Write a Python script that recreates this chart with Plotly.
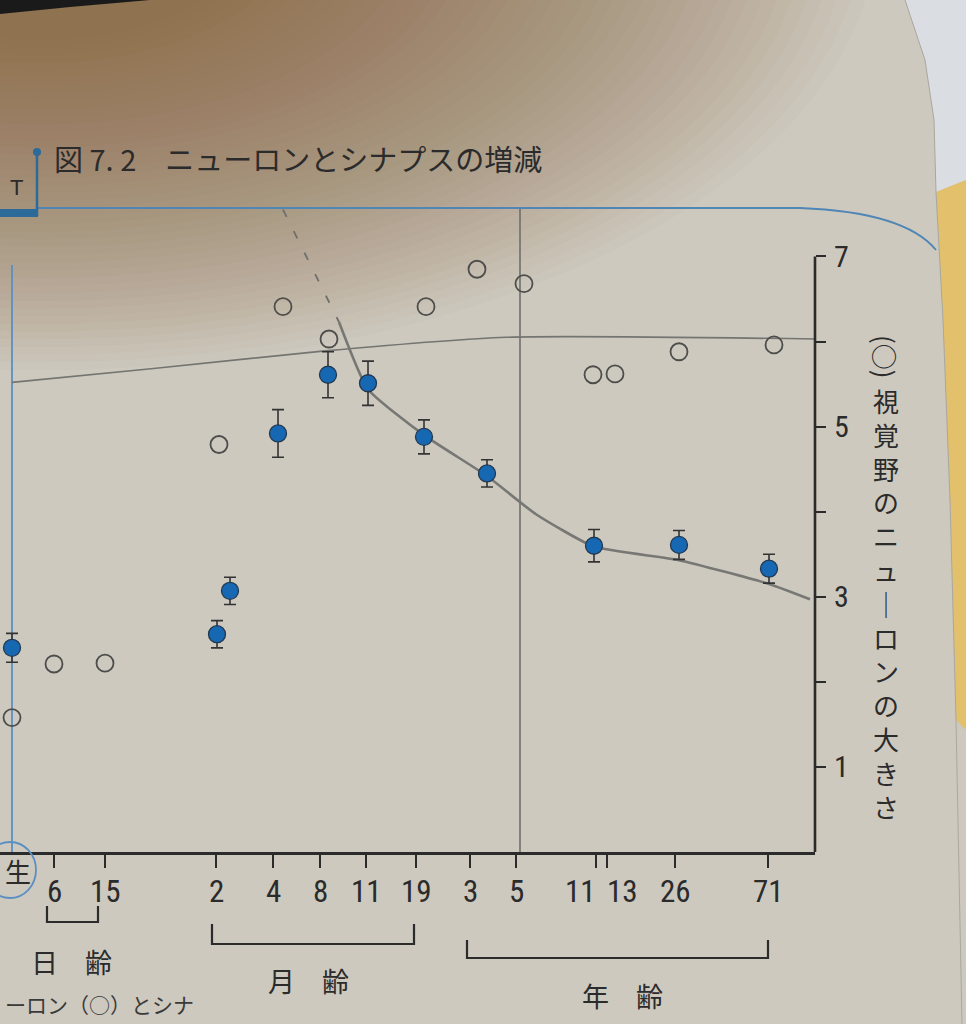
import plotly.graph_objects as go

# ---------------- data ----------------
# positions along the (non-linear) age axis, in axis units
tick_pos = [4.2, 9.3, 20.4, 26.1, 30.8, 35.4, 40.4, 45.8, 50.4, 58.4, 59.5, 66.3, 75.6]
tick_labels = ["6", "15", "2", "4", "8", "11", "19", "3", "5", "11", "13", "26", "71"]
birth_label = "生"
group_labels = ["日\u3000齢", "月\u3000齢", "年\u3000齢"]
right_ticks = [1, 2, 3, 4, 5, 6, 7]
right_tick_text = ["1", "", "3", "", "5", "", "7"]
title_text = "図 7. 2\u3000ニューロンとシナプスの増減"
right_title_mark = "(○)"
right_title_chars = ["視", "覚", "野", "の", "ニ", "ュ", "｜", "ロ", "ン", "の", "大", "き", "さ"]

# (○) size of visual-cortex neurons
open_x = [0, 4.2, 9.3, 20.7, 27.1, 31.7, 41.4, 46.5, 51.2, 58.1, 60.3, 66.7, 76.2]
open_y = [1.58, 2.21, 2.22, 4.79, 6.41, 6.03, 6.41, 6.85, 6.68, 5.61, 5.62, 5.88, 5.96]
# (●) synapse density with error bars
filled_x = [0, 20.5, 21.8, 26.6, 31.6, 35.6, 41.2, 47.5, 58.2, 66.7, 75.7]
filled_y = [2.40, 2.56, 3.07, 4.92, 5.61, 5.51, 4.88, 4.45, 3.60, 3.61, 3.33]
filled_err = [0.17, 0.16, 0.16, 0.28, 0.27, 0.26, 0.20, 0.16, 0.19, 0.17, 0.17]
# decline curve (dashed start, solid after)
trend_dash_x = [27.1, 32.7]
trend_dash_y = [7.55, 6.23]
trend_x = [32.7, 35.6, 41.2, 47.5, 52.4, 58.2, 66.7, 75.7, 79.8]
trend_y = [6.23, 5.44, 4.90, 4.42, 3.97, 3.59, 3.43, 3.15, 2.97]
# near-flat neuron line
flat_x = [0, 13.9, 31.3, 49.4, 80.3]
flat_y = [5.52, 5.68, 5.89, 6.05, 6.03]
age5_x = 50.8
left_axis_top = 6.9

# ---------------- layout helpers ----------------
W, H = 966, 1024
ML, MR, MT, MB = 0, 151, 208, 172
PW = W - ML - MR
PH = H - MT - MB
XR = [-1.2, 80.3]
YR = [0, 7.57]


def fx(px):
    return (px - ML) / PW


def fy(py):
    return (H - MB - py) / PH


def ux(xu):
    return (xu - XR[0]) / (XR[1] - XR[0]) * PW + ML


def pt(a, b):
    return f"{fx(a):.5f},{fy(b):.5f}"


def path(points, close=False):
    s = "M " + " L ".join(pt(a, b) for a, b in points)
    return s + (" Z" if close else "")


NUM_FONT = "Liberation Sans Narrow, Roboto Condensed, DejaVu Sans Condensed, Liberation Sans, sans-serif"
JP_FONT = "Noto Sans CJK JP"
INK = "#2b2b2b"
BG = "#cdc9bf"

fig = go.Figure()

fig.add_trace(go.Scatter(x=flat_x, y=flat_y, mode="lines",
                         line=dict(color="#747471", width=1.6, shape="spline", smoothing=0.6),
                         hoverinfo="skip", showlegend=False))
fig.add_trace(go.Scatter(x=trend_dash_x, y=trend_dash_y, mode="lines",
                         line=dict(color="#6e6e6b", width=1.8, dash="8px,16px"),
                         hoverinfo="skip", showlegend=False))
fig.add_trace(go.Scatter(x=trend_x, y=trend_y, mode="lines",
                         line=dict(color="#777774", width=2.6, shape="spline", smoothing=0.5),
                         hoverinfo="skip", showlegend=False))
fig.add_trace(go.Scatter(x=filled_x, y=filled_y, mode="markers",
                         marker=dict(size=17, color="#1768b3", line=dict(color="#22384f", width=1.3)),
                         error_y=dict(type="data", array=filled_err, color="#333333", thickness=1.6, width=6),
                         cliponaxis=False, showlegend=False))
fig.add_trace(go.Scatter(x=open_x, y=open_y, mode="markers",
                         marker=dict(symbol="circle-open", size=17, color="#4d4d4b", line=dict(width=1.8)),
                         cliponaxis=False, showlegend=False))

shapes = []
# ---- background lighting: soft warm shadow at the top-left ----
n_layers = 44
for k in range(n_layers):
    R = 110 + 330 * k / (n_layers - 1)
    cx, cy = 40, -70
    shapes.append(dict(type="circle", xref="paper", yref="paper", layer="below",
                       x0=fx(cx - 1.9 * R), x1=fx(cx + 1.9 * R), y0=fy(cy + R), y1=fy(cy - R),
                       fillcolor="rgba(122,86,40,0.024)", line=dict(width=0)))
shapes.append(dict(type="path", xref="paper", yref="paper", layer="below",
                   path=path([(0, 0), (150, 0), (70, 7), (0, 14)], True),
                   fillcolor="#1a1a1a", line=dict(width=0)))
# right page edge: white background at the corner, yellow page below
edge = [(905, 0), (925, 60), (934, 120), (936, 192), (943, 320), (950, 500), (956, 720), (962, 1024)]
shapes.append(dict(type="path", xref="paper", yref="paper", layer="below",
                   path=path([(966, 0), (966, 180)] + edge[3::-1], True),
                   fillcolor="#dadde1", line=dict(width=0)))
shapes.append(dict(type="path", xref="paper", yref="paper", layer="below",
                   path=path([(966, 180), (966, 730)] + [(956, 720), (950, 500), (943, 320), (936, 192)], True),
                   fillcolor="#e2c06c", line=dict(width=0)))
shapes.append(dict(type="path", xref="paper", yref="paper", layer="below",
                   path=path(edge), line=dict(color="#a9a7a0", width=1)))

# ---- title rule (curving down at the page corner) and tab ----
shapes.append(dict(type="path", xref="paper", yref="paper",
                   path=f"M {pt(37, MT)} L {pt(800, MT)} Q {pt(905, MT + 4)} {pt(936, 250)}",
                   line=dict(color="#4f86b5", width=1.8)))
shapes.append(dict(type="line", xref="paper", yref="paper", x0=fx(37), x1=fx(37), y0=fy(152), y1=fy(216),
                   line=dict(color="#2c6a9a", width=2.5)))
shapes.append(dict(type="circle", xref="paper", yref="paper", x0=fx(33), x1=fx(41), y0=fy(156), y1=fy(148),
                   fillcolor="#2c6a9a", line=dict(width=0)))
shapes.append(dict(type="rect", xref="paper", yref="paper", x0=fx(-2), x1=fx(38), y0=fy(217), y1=fy(209),
                   fillcolor="#2c6a9a", line=dict(width=0)))

# ---- axes lines ----
shapes.append(dict(type="line", xref="paper", yref="y", x0=1, x1=1, y0=0, y1=7,
                   line=dict(color=INK, width=2.6)))
shapes.append(dict(type="line", xref="x", yref="y", x0=0, x1=0, y0=0, y1=left_axis_top,
                   line=dict(color="#5b8fc2", width=1.8), layer="below"))
shapes.append(dict(type="line", xref="x", yref="y", x0=age5_x, x1=age5_x, y0=0, y1=YR[1],
                   line=dict(color="#6f6f6c", width=1.6), layer="below"))

# ---- age group brackets ----
brackets = [(3.5, 8.6, 906, 922), (20.0, 40.2, 924, 944), (45.5, 75.6, 940, 958)]
for x0u, x1u, yt, yb in brackets:
    a, b = ux(x0u), ux(x1u)
    shapes.append(dict(type="path", xref="paper", yref="paper",
                       path=path([(a, yt), (a, yb), (b, yb), (b, yt)]),
                       line=dict(color=INK, width=2.2)))
# circle around birth label
shapes.append(dict(type="circle", xref="paper", yref="paper", x0=fx(-16), x1=fx(36), y0=fy(898), y1=fy(842),
                   line=dict(color="#5b8fc2", width=1.8)))


def ann(text, x, y, size, family=JP_FONT, xref="paper", **kw):
    d = dict(text=text, xref=xref, yref="paper", x=x, y=y, showarrow=False,
             xanchor=kw.pop("xanchor", "center"), yanchor=kw.pop("yanchor", "middle"),
             font=dict(family=family, size=size, color=kw.pop("color", INK)))
    d.update(kw)
    return d


annotations = []
annotations.append(ann(title_text, fx(52), fy(158), 29, xanchor="left"))
annotations.append(ann("T", fx(16), fy(187), 22, family="Liberation Sans"))
# x tick labels
shifts = {9: -16, 10: 15}
for i, (p, lab) in enumerate(zip(tick_pos, tick_labels)):
    annotations.append(ann(lab, p, fy(891), 31, family=NUM_FONT, xref="x", xshift=shifts.get(i, 0)))
annotations.append(ann(birth_label, fx(3), fy(870), 26, xanchor="left"))
# group labels
for lab, (px, py) in zip(group_labels, [(71, 961), (308, 980), (622, 995)]):
    annotations.append(ann(lab, fx(px), fy(py), 27))
# vertical right-axis title
annotations.append(ann(right_title_mark, fx(886), fy(357), 26, textangle=90))
annotations.append(ann("<br>".join(right_title_chars), fx(886), fy(603), 26))
# body text at the bottom edge
annotations.append(ann("ーロン（○）とシナ", fx(3), fy(1004), 21, xanchor="left", color="#3a3a3a"))

fig.update_layout(
    width=W, height=H,
    margin=dict(l=ML, r=MR, t=MT, b=MB, autoexpand=False),
    paper_bgcolor=BG, plot_bgcolor="rgba(0,0,0,0)",
    shapes=shapes, annotations=annotations, showlegend=False,
    xaxis=dict(range=XR, showgrid=False, zeroline=False, showline=True, linecolor=INK, linewidth=2.6,
               ticks="outside", ticklen=13, tickwidth=2.2, tickcolor=INK,
               tickvals=tick_pos, ticktext=[""] * len(tick_pos), fixedrange=True),
    yaxis=dict(range=YR, side="right", showgrid=False, zeroline=False, showline=False,
               ticks="outside", ticklen=10, tickwidth=2.2, tickcolor=INK,
               tickvals=right_ticks, ticktext=right_tick_text, ticklabelstandoff=2,
               tickfont=dict(family=NUM_FONT, size=30, color=INK), fixedrange=True),
)

fig.write_html("out.html", config={"displayModeBar": False},
               post_script="document.body.style.margin='0';document.body.style.overflow='hidden';")
